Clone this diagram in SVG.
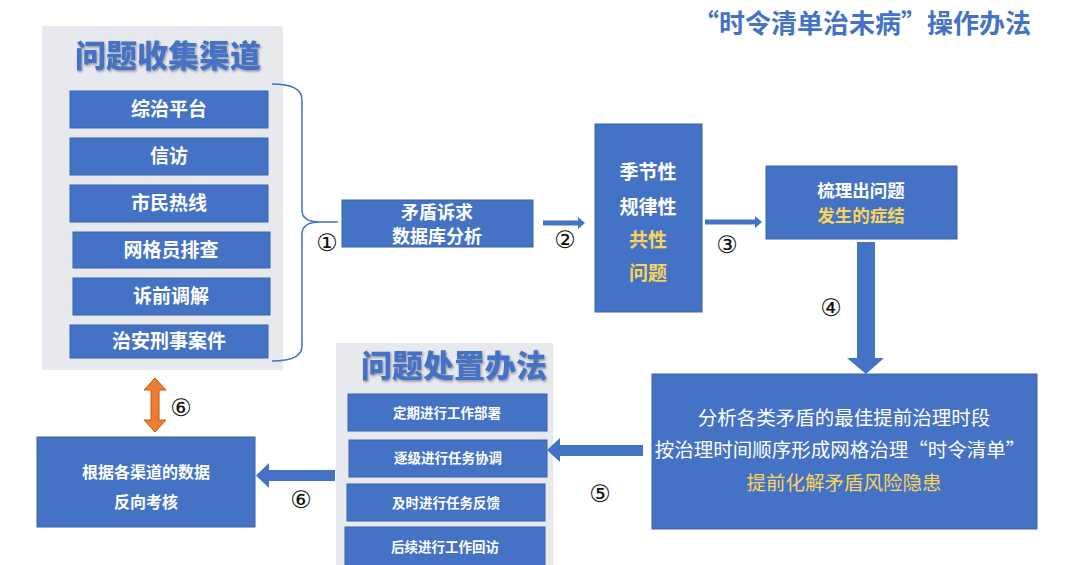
<svg xmlns="http://www.w3.org/2000/svg" width="1080" height="565" viewBox="0 0 1080 565">
<defs>
<style>
.panel{fill:#E7E9EE}
.box{fill:#4472C4;stroke:#3A62A8;stroke-width:1}
.t{font-family:"Noto Sans CJK SC","Noto Sans",sans-serif;font-weight:700;fill:#FFFFFF;text-anchor:middle}
.y{fill:#F9D45C}
.ptitle{font-family:"Noto Sans CJK SC","Noto Sans",sans-serif;font-weight:900;fill:#4472C4;font-size:31px;text-anchor:middle}
.num{font-family:"DejaVu Sans","Noto Sans CJK SC",sans-serif;font-size:24px;fill:#111;text-anchor:middle}
.arr{fill:#4472C4}
</style>
<filter id="sh" x="-10%" y="-20%" width="120%" height="140%">
<feDropShadow dx="1" dy="1.5" stdDeviation="1" flood-color="#223" flood-opacity="0.45"/>
</filter>
</defs>
<rect width="1080" height="565" fill="#FFFFFF"/>

<text x="862" y="33" font-family="Noto Sans CJK SC, sans-serif" font-weight="700" font-size="26" fill="#4472C4" text-anchor="middle">“时令清单治未病”操作办法</text>

<g id="panel-collect">
<rect class="panel" x="42" y="26" width="241" height="344"/>
<text class="ptitle" x="168" y="67" filter="url(#sh)">问题收集渠道</text>
</g>
<g id="n-zongzhi"><rect class="box" x="70" y="91" width="198" height="37"/><text class="t" x="169" y="116" font-size="19">综治平台</text></g>
<g id="n-xinfang"><rect class="box" x="70" y="138" width="198" height="37"/><text class="t" x="169" y="163" font-size="19">信访</text></g>
<g id="n-rexian"><rect class="box" x="70" y="185" width="198" height="37"/><text class="t" x="169" y="210" font-size="19">市民热线</text></g>
<g id="n-wangge"><rect class="box" x="73" y="232" width="197" height="36"/><text class="t" x="171" y="257" font-size="19">网格员排查</text></g>
<g id="n-suqian"><rect class="box" x="73" y="278" width="197" height="37"/><text class="t" x="171" y="303" font-size="19">诉前调解</text></g>
<g id="n-zhian"><rect class="box" x="70" y="325" width="198" height="33"/><text class="t" x="169" y="348" font-size="19">治安刑事案件</text></g>

<g id="panel-handle">
<rect class="panel" x="336" y="343" width="217" height="222"/>
<text class="ptitle" x="454" y="377" filter="url(#sh)">问题处置办法</text>
</g>
<g id="n-dingqi"><rect class="box" x="348" y="394" width="199" height="37"/><text class="t" x="447" y="418" font-size="13.5">定期进行工作部署</text></g>
<g id="n-zhuji"><rect class="box" x="349" y="440" width="198" height="37"/><text class="t" x="448" y="463" font-size="13.5">逐级进行任务协调</text></g>
<g id="n-jishi"><rect class="box" x="347" y="484" width="198" height="37"/><text class="t" x="446" y="508" font-size="13.5">及时进行任务反馈</text></g>
<g id="n-houxu"><rect class="box" x="345" y="527" width="200" height="40"/><text class="t" x="445" y="552" font-size="13.5">后续进行工作回访</text></g>

<g id="n-db"><rect class="box" x="342" y="200" width="191" height="47"/><text class="t" x="437" y="219" font-size="18">矛盾诉求</text><text class="t" x="437" y="243" font-size="18">数据库分析</text></g>
<g id="n-season"><rect class="box" x="595" y="124" width="107" height="188"/>
<text class="t" x="648" y="179" font-size="19">季节性</text>
<text class="t" x="648" y="214" font-size="19">规律性</text>
<text class="t y" x="648" y="247" font-size="19">共性</text>
<text class="t y" x="648" y="280" font-size="19">问题</text></g>
<g id="n-shuli"><rect class="box" x="766" y="166" width="191" height="73"/>
<text class="t" x="861" y="197" font-size="17.5">梳理出问题</text>
<text class="t y" x="861" y="222" font-size="17.5">发生的症结</text></g>
<g id="n-big"><rect class="box" x="652" y="374" width="385" height="155"/>
<text x="844" y="425" font-family="Noto Sans CJK SC, sans-serif" font-size="19.5" fill="#FFFFFF" text-anchor="middle">分析各类矛盾的最佳提前治理时段</text>
<text x="840" y="457" font-family="Noto Sans CJK SC, sans-serif" font-size="19.5" fill="#FFFFFF" text-anchor="middle">按治理时间顺序形成网格治理“时令清单”</text>
<text x="844" y="490" font-family="Noto Sans CJK SC, sans-serif" font-size="19.5" fill="#F9D45C" text-anchor="middle">提前化解矛盾风险隐患</text></g>
<g id="n-check"><rect class="box" x="37" y="437" width="218" height="90"/>
<text class="t" x="146" y="478" font-size="16">根据各渠道的数据</text>
<text class="t" x="146" y="508" font-size="16">反向考核</text></g>

<g id="connectors">
<path d="M272,84 Q302,84 302,100 L302,210 Q302,222 320,222 L338,222 M320,222 Q302,222 302,234 L302,346 Q302,361 272,361" fill="none" stroke="#4472C4" stroke-width="1.5"/>
<polygon class="arr" points="543,220.5 578,220.5 578,217 585,223 578,229 578,225.5 543,225.5"/>
<polygon class="arr" points="705,219.5 755,219.5 755,216 762,222 755,228 755,224.5 705,224.5"/>
<polygon class="arr" points="857,242 875,242 875,358 884,358 866,374 847,358 857,358"/>
<polygon class="arr" points="643,445 560,445 560,438 547,450 560,462 560,456 643,456"/>
<polygon class="arr" points="335,470 269,470 269,463 256,475.5 269,488 269,481 335,481"/>
<polygon points="155,378 166,390 159,390 159,420 166,420 155,432 144,420 151,420 151,390 144,390" fill="#ED7D31" stroke="#C55A11" stroke-width="1"/>
<text class="num" x="327" y="251">①</text>
<text class="num" x="565" y="248">②</text>
<text class="num" x="727" y="253">③</text>
<text class="num" x="831" y="316">④</text>
<text class="num" x="600" y="502">⑤</text>
<text class="num" x="181" y="416">⑥</text>
<text class="num" x="301" y="508">⑥</text>
</g>
</svg>
